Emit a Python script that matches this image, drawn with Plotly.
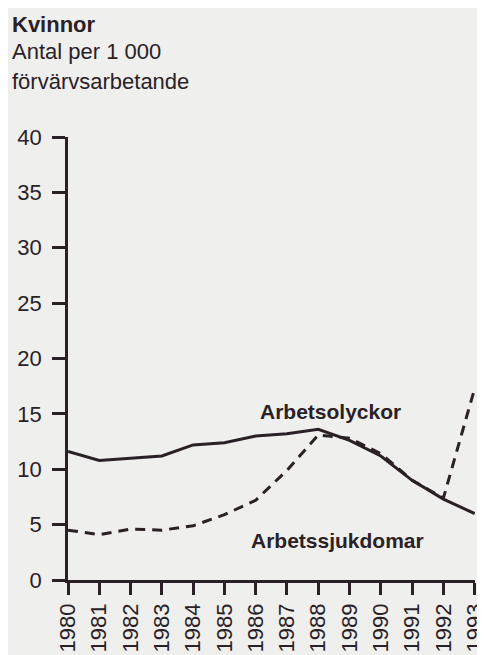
import plotly.graph_objects as go

years = list(range(1980, 1994))
year_labels = [str(y) for y in years]
arbetsolyckor = [11.6, 10.8, 11.0, 11.2, 12.2, 12.4, 13.0, 13.2, 13.6, 12.6, 11.2, 9.0, 7.3, 6.0]
arbetssjukdomar = [4.5, 4.1, 4.6, 4.5, 4.9, 5.9, 7.2, 9.9, 13.1, 12.8, 11.4, 9.0, 7.4, 17.3]
y_ticks = [0, 5, 10, 15, 20, 25, 30, 35, 40]

ink = "#2a2126"
bg = "#efefed"
font_family = "Liberation Sans, Arial, sans-serif"

fig = go.Figure()
fig.add_trace(go.Scatter(x=years, y=arbetsolyckor, mode="lines",
                         line=dict(color=ink, width=3), cliponaxis=False,
                         name="Arbetsolyckor"))
fig.add_trace(go.Scatter(x=years, y=arbetssjukdomar, mode="lines",
                         line=dict(color=ink, width=3, dash="10px,7px"), cliponaxis=False,
                         name="Arbetssjukdomar"))

# page body has an 8px default margin, so the figure is offset by 8px
fig.update_layout(
    width=477, height=647,
    margin=dict(l=60, r=10, t=129, b=75, autoexpand=False),
    paper_bgcolor=bg, plot_bgcolor=bg,
    showlegend=False,
    font=dict(family=font_family, color=ink, size=22),
    xaxis=dict(range=[1980, 1993.01], tickmode="array", tickvals=years, ticktext=year_labels,
               tickangle=-90, ticks="outside", ticklen=12, tickwidth=2.5, tickcolor=ink,
               showline=True, linecolor=ink, linewidth=2.5, showgrid=False, zeroline=False,
               automargin=False, ticklabeloverflow="allow",
               tickfont=dict(size=22, color=ink, family=font_family)),
    yaxis=dict(range=[0, 40], tickmode="array", tickvals=y_ticks,
               ticks="outside", ticklen=13, tickwidth=2.5, tickcolor=ink,
               showline=True, linecolor=ink, linewidth=2.5, showgrid=False, zeroline=False,
               automargin=False, ticklabeloverflow="allow",
               tickfont=dict(size=22, color=ink, family=font_family), ticklabelstandoff=6),
)

def paper_xy(px, py):
    return (px - 68) / 407.0, (580 - py) / 443.0

for text, px, py, bold in [("Kvinnor", 10, 24, True),
                           ("Antal per 1 000", 10, 51, False),
                           ("förvärvsarbetande", 10, 81, False)]:
    xp, yp = paper_xy(px, py)
    fig.add_annotation(x=xp, y=yp, xref="paper", yref="paper", xanchor="left", yanchor="middle",
                       text=("<b>%s</b>" % text) if bold else text, showarrow=False,
                       font=dict(size=22, color=ink, family=font_family))

fig.add_annotation(x=1988.4, y=15.2, text="<b>Arbetsolyckor</b>", showarrow=False,
                   xanchor="center", yanchor="middle", font=dict(size=21, color=ink, family=font_family))
fig.add_annotation(x=1988.6, y=3.6, text="<b>Arbetssjukdomar</b>", showarrow=False,
                   xanchor="center", yanchor="middle", font=dict(size=21, color=ink, family=font_family))

fig.write_html("out.html")
